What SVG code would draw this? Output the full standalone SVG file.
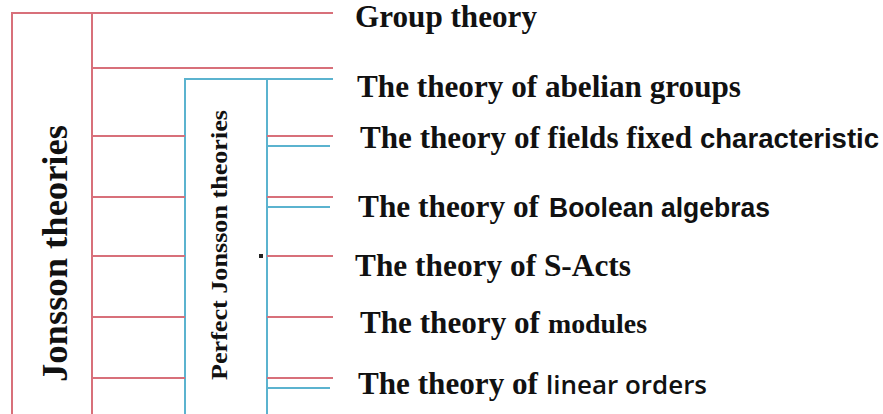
<svg xmlns="http://www.w3.org/2000/svg" width="883" height="414" viewBox="0 0 883 414">
<style>
.red{stroke:#d8707a;stroke-width:2;fill:none}
.blue{stroke:#5bb3cf;stroke-width:2;fill:none}
.serif{font-family:"Liberation Serif","Times New Roman",serif;font-weight:bold;fill:#111}
.sans{font-family:"Liberation Sans",Arial,sans-serif;font-weight:bold;fill:#111;font-size:27px}
.semi{font-family:"Open Sans","Liberation Sans",Arial,sans-serif;font-weight:600;fill:#111;font-size:26px}
.lbl{font-size:31px}
</style>
<rect width="883" height="414" fill="#ffffff"/>
<g id="node-jonsson">
<path class="red" d="M12,415 V13 H333 M92,13 V415"/>
<text class="serif" font-size="35" transform="translate(67,382) rotate(-90)" textLength="257" lengthAdjust="spacingAndGlyphs">Jonsson theories</text>
</g>
<g id="node-perfect">
<path class="blue" d="M185,415 V79 H333 M267,79 V415"/>
<text class="serif" font-size="24" transform="translate(227,380) rotate(-90)" textLength="270" lengthAdjust="spacingAndGlyphs">Perfect Jonsson theories</text>
<rect x="259" y="254" width="4" height="4" fill="#222"/>
</g>
<g id="connectors">
<path class="red" d="M92,68 H333 M92,136 H185 M267,136 H333 M92,197 H185 M267,197 H333 M92,256 H185 M267,256 H333 M92,317 H185 M267,317 H333 M92,378 H185 M267,378 H333"/>
<path class="blue" d="M267,146 H330 M267,207 H330 M267,388 H330"/>
</g>
<g id="node-group"><text class="serif lbl" x="355" y="27" textLength="182" lengthAdjust="spacingAndGlyphs">Group theory</text></g>
<g id="node-abelian"><text class="serif lbl" x="357" y="97" textLength="384" lengthAdjust="spacingAndGlyphs">The theory of abelian groups</text></g>
<g id="node-fields">
<text class="serif lbl" x="360" y="148" textLength="332" lengthAdjust="spacingAndGlyphs">The theory of fields fixed</text>
<text class="sans" x="700" y="148" textLength="179" lengthAdjust="spacingAndGlyphs">characteristic</text>
</g>
<g id="node-boolean">
<text class="serif lbl" x="358" y="217" textLength="181" lengthAdjust="spacingAndGlyphs">The theory of</text>
<text class="sans" x="549" y="217" textLength="221" lengthAdjust="spacingAndGlyphs">Boolean algebras</text>
</g>
<g id="node-sacts"><text class="serif lbl" x="355" y="276" textLength="276" lengthAdjust="spacingAndGlyphs">The theory of S-Acts</text></g>
<g id="node-modules">
<text class="serif lbl" x="360" y="333" textLength="180" lengthAdjust="spacingAndGlyphs">The theory of</text>
<text class="serif" font-size="27" x="548" y="333" textLength="99" lengthAdjust="spacingAndGlyphs">modules</text>
</g>
<g id="node-linear">
<text class="serif lbl" x="358" y="394" textLength="180" lengthAdjust="spacingAndGlyphs">The theory of</text>
<text class="semi" x="546" y="394" textLength="161" lengthAdjust="spacingAndGlyphs">linear orders</text>
</g>
</svg>
